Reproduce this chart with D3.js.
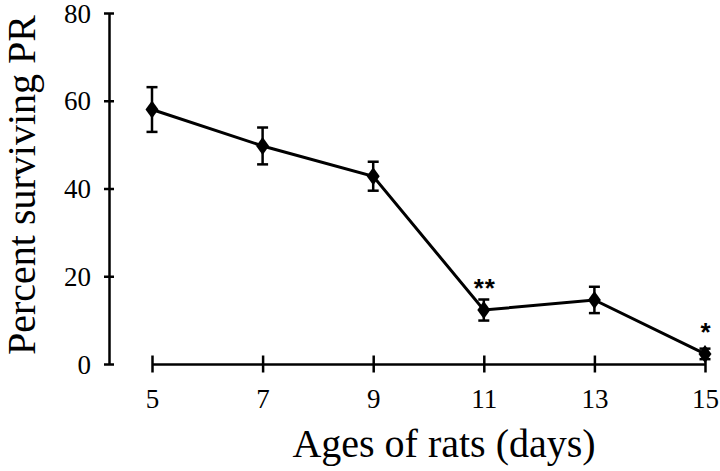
<!DOCTYPE html>
<html>
<head>
<meta charset="utf-8">
<script src="https://cdn.jsdelivr.net/npm/d3@7"></script>
<style>
  html, body { margin: 0; padding: 0; background: #fff; }
  svg { display: block; }
  text { font-family: "Liberation Serif", "Times New Roman", serif; fill: #000; }
</style>
</head>
<body>
<svg id="chart" width="720" height="471"></svg>
<script>
const days = [5, 7, 9, 11, 13, 15];
const meanValues = [58, 49.7, 42.8, 12.3, 14.6, 2.3];
const semValues = [5.1, 4.2, 3.3, 2.4, 3.0, 1.2];
const significance = ["", "", "", "**", "", "*"];
const yTicks = [0, 20, 40, 60, 80];
const xTicks = [5, 7, 9, 11, 13, 15];
const xTitle = "Ages of rats (days)";
const yTitle = "Percent surviving PR";

const svg = d3.select("#chart");
const x = d3.scaleLinear().domain([5, 15]).range([152, 705]);
const y = d3.scaleLinear().domain([0, 80]).range([364, 13]);
const yAxisX = 109;

// Y axis
const gy = svg.append("g").attr("transform", `translate(${yAxisX},0)`)
  .call(d3.axisLeft(y).tickValues(yTicks).tickFormat(d3.format("d")).tickSize(0));
gy.select(".domain").attr("stroke", "#000").attr("stroke-width", 2.5);
gy.selectAll(".tick line").attr("x1", -5).attr("x2", 5).attr("stroke", "#000").attr("stroke-width", 2.5);
gy.selectAll(".tick text").attr("x", -18).attr("dy", "0.34em")
  .style("font-family", "Liberation Serif").style("font-size", "27px").attr("fill", "#000");

// X axis
const gx = svg.append("g").attr("transform", `translate(0,${y(0)})`)
  .call(d3.axisBottom(x).tickValues(xTicks).tickFormat(d3.format("d")).tickSize(0));
gx.select(".domain").attr("stroke", "#000").attr("stroke-width", 2.5);
gx.selectAll(".tick line").attr("y1", -8.5).attr("y2", 8.5).attr("stroke", "#000").attr("stroke-width", 2.5);
gx.selectAll(".tick text").attr("y", 44).attr("dy", 0)
  .style("font-family", "Liberation Serif").style("font-size", "27px").attr("fill", "#000");

// Titles
svg.append("text").attr("x", 444).attr("y", 457).attr("text-anchor", "middle")
  .style("font-size", "40px").text(xTitle);
svg.append("text").attr("transform", "translate(35,185) rotate(-90)").attr("text-anchor", "middle")
  .style("font-size", "40px").text(yTitle);

const data = days.map((d, i) => ({ day: d, mean: meanValues[i], sem: semValues[i], sig: significance[i] }));

// Error bars
const eb = svg.append("g").attr("stroke", "#000").attr("stroke-width", 2.5);
data.forEach(d => {
  eb.append("line").attr("x1", x(d.day)).attr("x2", x(d.day))
    .attr("y1", y(d.mean + d.sem)).attr("y2", y(d.mean - d.sem));
  eb.append("line").attr("x1", x(d.day) - 5.5).attr("x2", x(d.day) + 5.5)
    .attr("y1", y(d.mean + d.sem)).attr("y2", y(d.mean + d.sem));
  eb.append("line").attr("x1", x(d.day) - 5.5).attr("x2", x(d.day) + 5.5)
    .attr("y1", y(d.mean - d.sem)).attr("y2", y(d.mean - d.sem));
});

// Line
svg.append("path").datum(data)
  .attr("fill", "none").attr("stroke", "#000").attr("stroke-width", 3)
  .attr("d", d3.line().x(d => x(d.day)).y(d => y(d.mean)));

// Diamond markers
svg.append("g").selectAll("path").data(data).join("path")
  .attr("transform", d => `translate(${x(d.day)},${y(d.mean)})`)
  .attr("d", "M0,-9L6.5,0L0,9L-6.5,0Z")
  .attr("fill", "#000");

// Significance stars
svg.append("g").selectAll("text").data(data.filter(d => d.sig)).join("text")
  .attr("x", d => x(d.day) + 1)
  .attr("y", d => y(d.mean) - 13)
  .attr("text-anchor", "middle")
  .style("font-family", "Liberation Sans").style("font-weight", "bold").style("font-size", "26px")
  .style("letter-spacing", "1px")
  .text(d => d.sig);
</script>
</body>
</html>
